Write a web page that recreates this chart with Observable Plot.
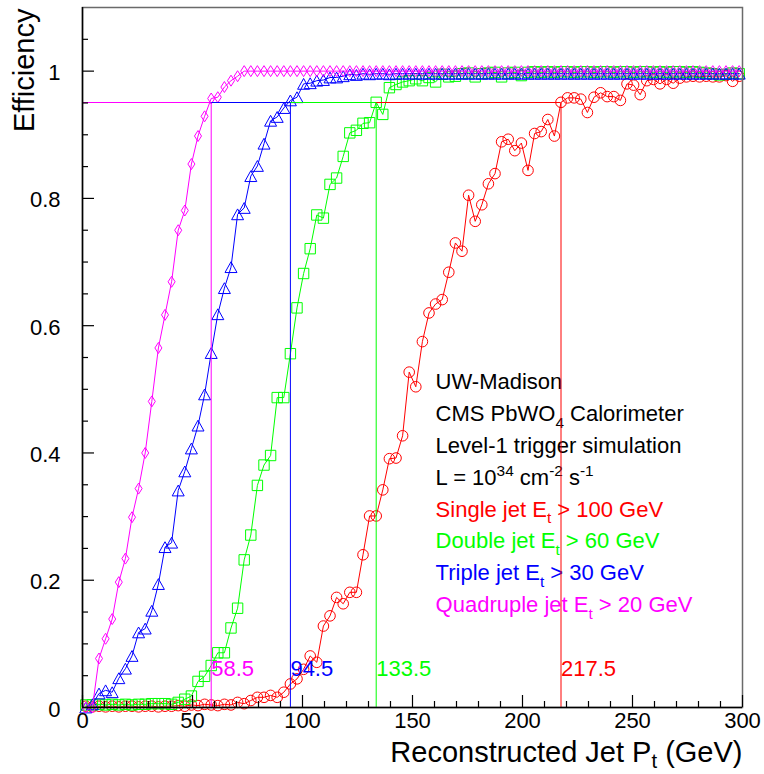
<!DOCTYPE html>
<html>
<head>
<meta charset="utf-8">
<script src="https://cdn.jsdelivr.net/npm/d3@7"></script>
<script src="https://cdn.jsdelivr.net/npm/@observablehq/plot@0.6"></script>
<style>
  html, body { margin: 0; padding: 0; background: #fff; }
  #chart svg { display: block; }
</style>
</head>
<body>
<div id="chart"></div>
<script>
// Trigger efficiency vs reconstructed jet Pt, 3 GeV bins (centres 1.5 ... 298.5)
const binCenters = d3.range(100).map(i => 1.5 + 3 * i);

const singleJet = [
  0.002, 0.001, 0.002, 0.001, 0.002, 0.001, 0.002, 0.002, 0.001, 0.002,
  0.002, 0.001, 0.002, 0.002, 0.003, 0.002, 0.004, 0.003, 0.005, 0.004,
  0.003, 0.005, 0.004, 0.008, 0.006, 0.011, 0.016, 0.016, 0.019, 0.016,
  0.024, 0.037, 0.045, 0.060, 0.081, 0.071, 0.128, 0.144, 0.173, 0.163,
  0.181, 0.181, 0.240, 0.301, 0.301, 0.342, 0.391, 0.392, 0.427, 0.527,
  0.504, 0.575, 0.620, 0.634, 0.641, 0.684, 0.730, 0.717, 0.805, 0.764,
  0.790, 0.823, 0.839, 0.889, 0.893, 0.875, 0.887, 0.844, 0.902, 0.905,
  0.924, 0.898, 0.951, 0.958, 0.958, 0.956, 0.935, 0.959, 0.966, 0.960,
  0.960, 0.954, 0.980, 0.978, 0.963, 0.985, 0.987, 0.980, 0.987, 0.981,
  0.989, 0.991, 0.992, 0.991, 0.992, 0.991, 0.991, 0.993, 0.984, 0.992
];

const doubleJet = [
  0.004, 0.004, 0.005, 0.004, 0.005, 0.004, 0.005, 0.004, 0.005, 0.005,
  0.006, 0.006, 0.006, 0.005, 0.008, 0.013, 0.018, 0.041, 0.049, 0.066,
  0.086, 0.086, 0.125, 0.156, 0.232, 0.271, 0.349, 0.381, 0.396, 0.487,
  0.487, 0.556, 0.628, 0.682, 0.721, 0.774, 0.769, 0.822, 0.832, 0.866,
  0.903, 0.907, 0.918, 0.919, 0.951, 0.932, 0.974, 0.979, 0.983, 0.985,
  0.988, 0.985, 0.990, 0.983, 0.995, 0.991, 0.992, 0.996, 0.997, 0.991,
  0.996, 0.997, 0.998, 0.991, 0.997, 0.998, 0.993, 0.998, 0.999, 0.998,
  0.999, 0.998, 0.999, 0.999, 0.998, 0.999, 0.999, 0.998, 0.999, 0.999,
  0.998, 0.999, 0.999, 0.998, 0.999, 0.999, 0.998, 0.999, 0.998, 0.999,
  0.999, 0.998, 0.999, 0.998, 0.997, 0.996, 0.994, 0.995, 0.997, 0.996
];

const tripleJet = [
  0.000, 0.005, 0.022, 0.027, 0.024, 0.046, 0.061, 0.081, 0.118, 0.124,
  0.152, 0.194, 0.252, 0.259, 0.341, 0.371, 0.407, 0.443, 0.492, 0.557,
  0.618, 0.659, 0.692, 0.775, 0.785, 0.835, 0.851, 0.886, 0.922, 0.928,
  0.942, 0.954, 0.959, 0.980, 0.981, 0.985, 0.986, 0.990, 0.990, 0.992,
  0.995, 0.994, 0.996, 0.995, 0.996, 0.996, 0.995, 0.996, 0.996, 0.996,
  0.996, 0.996, 0.996, 0.996, 0.996, 0.996, 0.996, 0.996, 0.996, 0.996,
  0.996, 0.996, 0.996, 0.996, 0.996, 0.996, 0.996, 0.996, 0.996, 0.996,
  0.996, 0.996, 0.996, 0.996, 0.996, 0.996, 0.996, 0.996, 0.996, 0.996,
  0.996, 0.996, 0.996, 0.996, 0.996, 0.996, 0.996, 0.996, 0.996, 0.996,
  0.996, 0.996, 0.996, 0.996, 0.996, 0.996, 0.996, 0.996, 0.996, 0.996
];

const quadJet = [
  0.000, 0.000, 0.077, 0.108, 0.139, 0.197, 0.234, 0.299, 0.344, 0.400,
  0.481, 0.565, 0.617, 0.669, 0.750, 0.781, 0.854, 0.898, 0.929, 0.957,
  0.959, 0.975, 0.985, 0.992, 1.000, 1.000, 1.000, 1.000, 1.000, 1.000,
  1.000, 1.000, 1.000, 1.000, 1.000, 1.000, 1.000, 1.000, 1.000, 1.000,
  1.000, 1.000, 1.000, 1.000, 1.000, 1.000, 1.000, 1.000, 1.000, 1.000,
  1.000, 1.000, 1.000, 1.000, 1.000, 1.000, 1.000, 1.000, 1.000, 1.000,
  1.000, 1.000, 1.000, 1.000, 1.000, 1.000, 1.000, 1.000, 1.000, 1.000,
  1.000, 1.000, 1.000, 1.000, 1.000, 1.000, 1.000, 1.000, 1.000, 1.000,
  1.000, 1.000, 1.000, 1.000, 1.000, 1.000, 1.000, 1.000, 1.000, 1.000,
  1.000, 1.000, 1.000, 1.000, 1.000, 1.000, 1.000, 1.000, 1.000, 1.000
];

// 95% efficiency points (GeV)
const thresholdValues = [217.5, 133.5, 94.5, 58.5];
const thresholdLabels = ["217.5", "133.5", "94.5", "58.5"];
const efficiencyLevel = 0.95;
const labelLevel = 0.05;

const seriesColors = ["#ff0000", "#00ff00", "#0000ff", "#ff00ff"];
const seriesValues = [singleJet, doubleJet, tripleJet, quadJet];

// Annotation block, ROOT-style _{} / ^{} markup
const noteLines = [
  "UW-Madison",
  "CMS PbWO_{4} Calorimeter",
  "Level-1 trigger simulation",
  "L = 10^{34} cm^{-2} s^{-1}",
  "Single jet E_{t} > 100 GeV",
  "Double jet E_{t} > 60 GeV",
  "Triple jet E_{t} > 30 GeV",
  "Quadruple jet E_{t} > 20 GeV"
];
const noteColors = ["#000", "#000", "#000", "#000", "#ff0000", "#00ff00", "#0000ff", "#ff00ff"];
const noteX = 160.5;
const noteY = [0.50, 0.45, 0.40, 0.35, 0.30, 0.25, 0.20, 0.15];

// Axis ticks and labels
const xMajor = [0, 50, 100, 150, 200, 250, 300];
const xTickLabels = ["0", "50", "100", "150", "200", "250", "300"];
const xMinor = d3.range(0, 301, 10).filter(v => v % 50 !== 0);
const yMajor = [0, 0.2, 0.4, 0.6, 0.8, 1.0];
const yTickLabels = ["0", "0.2", "0.4", "0.6", "0.8", "1"];
const yMinor = [0.05, 0.1, 0.15, 0.25, 0.3, 0.35, 0.45, 0.5, 0.55, 0.65, 0.7, 0.75, 0.85, 0.9, 0.95, 1.05];
const xTitle = "Reconstructed Jet P_{t} (GeV)";
const yTitle = "Efficiency";

// Marker shapes in the style of ROOT open markers
const openCircle = {draw(ctx, size) { const r = Math.sqrt(size / Math.PI); ctx.moveTo(r, 0); ctx.arc(0, 0, r, 0, 2 * Math.PI); ctx.closePath(); }};
const openSquare = {draw(ctx, size) { const r = Math.sqrt(size / Math.PI); ctx.rect(-r, -r, 2 * r, 2 * r); }};
const openTriangle = {draw(ctx, size) { const r = Math.sqrt(size / Math.PI); const h = r * 0.9; ctx.moveTo(0, -h); ctx.lineTo(r, h); ctx.lineTo(-r, h); ctx.closePath(); }};
const openDiamond = {draw(ctx, size) { const r = Math.sqrt(size / Math.PI); const w = r * 0.64; ctx.moveTo(0, -r); ctx.lineTo(w, 0); ctx.lineTo(0, r); ctx.lineTo(-w, 0); ctx.closePath(); }};
const symbols = [openCircle, openSquare, openTriangle, openDiamond];
const symbolR = [5.3, 5.2, 6.0, 5.5];

const width = 764, height = 774;
const marginLeft = 82, marginRight = 22, marginTop = 7, marginBottom = 67;
const frameW = width - marginLeft - marginRight;
const frameH = height - marginTop - marginBottom;
const font = "Liberation Sans, Arial, Helvetica, sans-serif";

const marks = [];

// curves: lines + open markers
seriesValues.forEach((vals, s) => {
  const pts = binCenters.map((x, i) => ({x, y: vals[i]}));
  marks.push(Plot.line(pts, {x: "x", y: "y", stroke: seriesColors[s], strokeWidth: 1}));
  marks.push(Plot.dot(pts, {x: "x", y: "y", symbol: symbols[s], r: symbolR[s], stroke: seriesColors[s], fill: "none", strokeWidth: 1}));
});

// annotation text
noteLines.forEach((line, i) => {
  marks.push(Plot.text([line], {x: noteX, y: noteY[i], text: d => d, textAnchor: "start", lineAnchor: "bottom", fontSize: 22, fill: noteColors[i]}));
});

// 95% lines: horizontal from 0 (kept on a whole pixel row), vertical from 0
thresholdValues.forEach((t, s) => {
  marks.push(Plot.ruleY([efficiencyLevel], {y: d => d, x1: 0, x2: t, dy: -0.45, stroke: seriesColors[s], strokeWidth: 1}));
});
thresholdValues.forEach((t, s) => {
  marks.push(Plot.ruleX([t], {x: d => d, y1: 0, y2: efficiencyLevel, stroke: seriesColors[s], strokeWidth: 1}));
  marks.push(Plot.text([thresholdLabels[s]], {x: t, y: labelLevel, text: d => d, textAnchor: "start", lineAnchor: "bottom", fontSize: 22, fill: seriesColors[s]}));
});

// frame and axes (ticks point inward)
marks.push(
  Plot.frame({stroke: "#6a6a6a", strokeWidth: 1.5}),
  Plot.ruleX([0], {stroke: "#000", strokeWidth: 1.5}),
  Plot.ruleY([0], {stroke: "#000", strokeWidth: 1.5}),
  Plot.tickY(yMajor, {y: d => d, insetRight: frameW - 12, stroke: "#000", strokeWidth: 1.2}),
  Plot.tickY(yMinor, {y: d => d, insetRight: frameW - 6, stroke: "#000", strokeWidth: 1.2}),
  Plot.tickX(xMajor, {x: d => d, insetTop: frameH - 12, stroke: "#000", strokeWidth: 1.2}),
  Plot.tickX(xMinor, {x: d => d, insetTop: frameH - 6, stroke: "#000", strokeWidth: 1.2}),
  Plot.text(yMajor, {y: d => d, text: (d, i) => yTickLabels[i], frameAnchor: "left", dx: -22, dy: 2, textAnchor: "end", fontSize: 22, fill: "#000"}),
  Plot.text(xMajor, {x: d => d, text: (d, i) => xTickLabels[i], frameAnchor: "bottom", dy: 20, fontSize: 22, fill: "#000"}),
  Plot.text([xTitle], {text: d => d, frameAnchor: "bottom-right", dx: 0, dy: 54, textAnchor: "end", lineAnchor: "bottom", fontSize: 29, fill: "#000"}),
  Plot.text([yTitle], {text: d => d, frameAnchor: "top-left", dx: -48.5, dy: 1, rotate: -90, textAnchor: "end", lineAnchor: "bottom", fontSize: 29, fill: "#000"})
);

const chart = Plot.plot({
  width, height, marginLeft, marginRight, marginTop, marginBottom,
  style: {fontFamily: font, background: "#fff", color: "#000"},
  x: {domain: [0, 300], axis: null},
  y: {domain: [0, 1.1], axis: null},
  marks
});
document.getElementById("chart").appendChild(chart);

// Turn _{..} and ^{..} markup into sub/superscript tspans
function parseMarkup(s) {
  const out = []; let buf = "", i = 0;
  while (i < s.length) {
    if ((s[i] === "_" || s[i] === "^") && s[i + 1] === "{") {
      if (buf) { out.push({t: buf, k: 0}); buf = ""; }
      const j = s.indexOf("}", i);
      out.push({t: s.slice(i + 2, j), k: s[i] === "_" ? -1 : 1});
      i = j + 1;
    } else buf += s[i++];
  }
  if (buf) out.push({t: buf, k: 0});
  return out;
}
d3.select(chart).selectAll("text").each(function () {
  const s = this.textContent;
  if (!/[_^]\{/.test(s)) return;
  const fs = parseFloat(getComputedStyle(this).fontSize) || 22;
  const sub = fs > 25 ? 0.22 : 0.3;
  this.textContent = "";
  let cur = 0;
  for (const seg of parseMarkup(s)) {
    const target = seg.k === -1 ? sub * fs : seg.k === 1 ? -0.42 * fs : 0;
    const ts = d3.select(this).append("tspan").text(seg.t).attr("dy", target - cur);
    if (seg.k) ts.attr("font-size", 0.7 * fs);
    cur = target;
  }
});
</script>
</body>
</html>
